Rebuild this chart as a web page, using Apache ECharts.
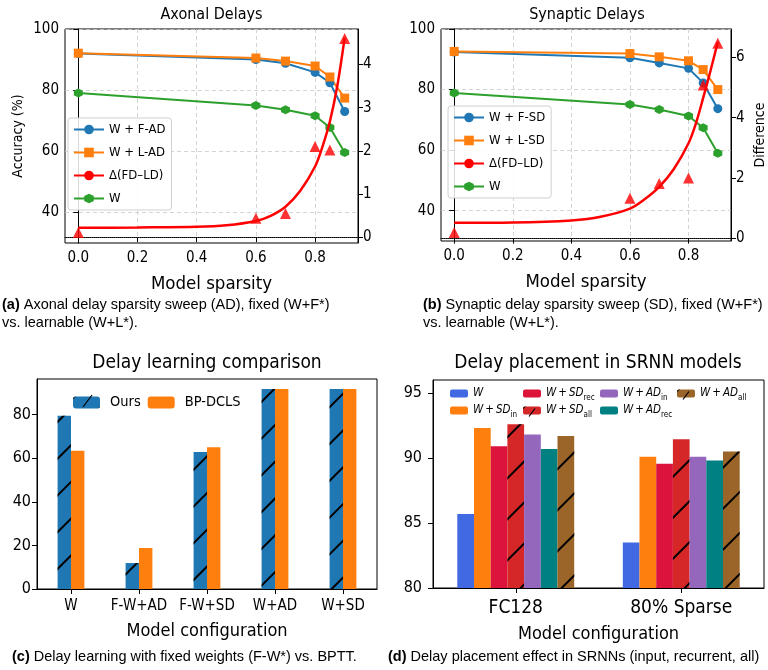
<!DOCTYPE html>
<html><head><meta charset="utf-8">
<script src="https://cdn.jsdelivr.net/npm/echarts@6/dist/echarts.min.js"></script>
<style>html,body{margin:0;padding:0;background:#fff}#c{width:768px;height:670px}</style>
</head><body><div id="c"></div>
<script>
// ---------- data ----------
const sparsity = [0, 0.6, 0.7, 0.8, 0.85, 0.9];
const sparsityTicks = [0, 0.2, 0.4, 0.6, 0.8];
// (a) axonal delays
const axF = [92.0, 90.0, 88.8, 85.8, 82.4, 73.0];
const axL = [92.1, 90.5, 89.5, 87.9, 84.3, 77.4];
const axW = [79.1, 75.0, 73.6, 71.6, 67.8, 59.6];
const axDiff = [0.11, 0.44, 0.55, 2.1, 2.02, 4.6];
// (b) synaptic delays
const sdF = [92.4, 90.5, 88.8, 87.0, 82.2, 73.7];
const sdL = [92.6, 91.9, 90.8, 89.5, 86.6, 80.0];
const sdW = [78.9, 75.1, 73.4, 71.3, 67.4, 59.0];
const sdDiff = [0.2, 1.33, 1.82, 2.0, 5.08, 6.46];
// fitted difference curves
const fitX = [0, 0.2, 0.4, 0.5, 0.6, 0.65, 0.7, 0.75, 0.8, 0.825, 0.85, 0.875, 0.9];
const axFit = [0.22, 0.23, 0.245, 0.28, 0.38, 0.5, 0.71, 1.08, 1.64, 2.1, 2.68, 3.5, 4.62];
const sdFit = [0.52, 0.53, 0.6, 0.72, 0.99, 1.3, 1.71, 2.3, 3.15, 3.8, 4.65, 5.55, 6.5];
const accTicks = [40, 60, 80, 100];
const axDiffTicks = [0, 1, 2, 3, 4];
const sdDiffTicks = [0, 2, 4, 6];
// (c) delay learning comparison
const cCats = ['W', 'F-W+AD', 'F-W+SD', 'W+AD', 'W+SD'];
const cOurs = [79.5, 11.9, 62.8, 91.7, 91.7];
const cBP = [63.4, 18.8, 65.0, 91.7, 91.7];
const cTicks = [0, 20, 40, 60, 80];
// (d) delay placement
const dCats = ['FC128', '80% Sparse'];
const dW = [85.7, 83.5];
const dSDin = [92.3, 90.1];
const dSDrec = [90.9, 89.55];
const dSDall = [92.6, 91.45];
const dADin = [91.8, 90.1];
const dADrec = [90.7, 89.8];
const dADall = [91.7, 90.5];
const dTicks = [80, 85, 90, 95];

// ---------- style ----------
const FONT = "'DejaVu Sans Condensed', 'DejaVu Sans', sans-serif";
const CAP = "'Liberation Sans', Arial, sans-serif";
const pairs = (xs, ys) => xs.map((x, i) => [x, ys[i]]);
const HEX = 'path://M0,-1 L0.866,-0.5 L0.866,0.5 L0,1 L-0.866,0.5 L-0.866,-0.5 Z';
const gridDash = {show: true, lineStyle: {color: '#c8c8c8', type: [4, 3], width: 0.8}};
const blackLine = {show: true, lineStyle: {color: '#000', width: 1}};
function hatch(gap) {
  return {symbol: 'rect', symbolSize: 1, color: '#000', dashArrayX: [10, 0], dashArrayY: [1.3, gap], rotation: -Math.PI / 4};
}

function sparsityX(gi) {
  return {type: 'value', gridIndex: gi, min: -0.045, max: 0.945,
    axisLine: blackLine, axisTick: {show: true, length: 5, customValues: sparsityTicks, lineStyle: {color: '#000'}},
    axisLabel: {customValues: sparsityTicks, formatter: v => v.toFixed(1), fontFamily: FONT, fontSize: 15, color: '#000', margin: 8},
    splitLine: gridDash,
    name: 'Model sparsity', nameLocation: 'middle', nameGap: 32,
    nameTextStyle: {fontFamily: FONT, fontSize: 18.5, color: '#000'}};
}
function accY(gi, name) {
  return {type: 'value', gridIndex: gi, min: 30, max: 100, position: 'left',
    axisLine: blackLine, axisTick: {show: true, length: 5, customValues: accTicks, lineStyle: {color: '#000'}},
    axisLabel: {customValues: accTicks, fontFamily: FONT, fontSize: 15, color: '#000', margin: 6},
    splitLine: gridDash,
    name: name, nameLocation: 'middle', nameGap: 40,
    nameTextStyle: {fontFamily: FONT, fontSize: 14, color: '#000'}};
}
function diffY(gi, min, max, ticks, name) {
  return {type: 'value', gridIndex: gi, min: min, max: max, position: 'right',
    axisLine: blackLine, axisTick: {show: true, length: 5, customValues: ticks, lineStyle: {color: '#000'}},
    axisLabel: {customValues: ticks, fontFamily: FONT, fontSize: 15, color: '#000', margin: 5},
    splitLine: {show: false},
    name: name, nameLocation: 'middle', nameGap: 22,
    nameTextStyle: {fontFamily: FONT, fontSize: 14, color: '#000'}};
}
function lineSeries(name, xi, yi, ys, color, symbol) {
  return {name: name, type: 'line', xAxisIndex: xi, yAxisIndex: yi, data: pairs(sparsity, ys),
    symbol: symbol, symbolSize: 9, color: color, lineStyle: {width: 2, color: color},
    itemStyle: {color: color}, z: 3};
}
function fitSeries(name, xi, yi, ys) {
  return {name: name, type: 'line', xAxisIndex: xi, yAxisIndex: yi, data: pairs(fitX, ys),
    symbol: 'none', smooth: 0.3, color: '#ff0000', lineStyle: {width: 2.5, color: '#ff0000'}, z: 4,
    markLine: {silent: true, symbol: 'none', label: {show: false},
      lineStyle: {color: '#333', type: 'dotted', width: 1}, data: [{yAxis: 0}]}};
}
function triSeries(name, xi, yi, ys) {
  return {name: name, type: 'scatter', xAxisIndex: xi, yAxisIndex: yi, data: pairs(sparsity, ys),
    symbol: 'triangle', symbolSize: 11, itemStyle: {color: '#ff0000'}, z: 5};
}
function lineLegend(left, top, names) {
  return {left: left, top: top, orient: 'vertical', data: names,
    formatter: n => n.slice(2), itemWidth: 30, itemHeight: 12, itemGap: 10,
    padding: [5, 6, 5, 5], borderColor: '#d0d0d0', borderWidth: 1, borderRadius: 3,
    backgroundColor: 'rgba(255,255,255,0.85)', selectedMode: false,
    textStyle: {fontFamily: FONT, fontSize: 13, color: '#000'}};
}
function barSeries(name, yi, xi, data, color, decal, width) {
  const s = {name: name, type: 'bar', xAxisIndex: xi, yAxisIndex: yi, data: data, barWidth: width, barGap: 0,
    itemStyle: {color: color}};
  if (decal) s.itemStyle.decal = decal;
  return s;
}
const TS = '\u2009';
const dNames = {
  'd:W': '{m|W}',
  'd:SDin': '{m|W' + TS + '+' + TS + 'SD}{s|in}',
  'd:SDrec': '{m|W' + TS + '+' + TS + 'SD}{s|rec}',
  'd:SDall': '{m|W' + TS + '+' + TS + 'SD}{s|all}',
  'd:ADin': '{m|W' + TS + '+' + TS + 'AD}{s|in}',
  'd:ADrec': '{m|W' + TS + '+' + TS + 'AD}{s|rec}',
  'd:ADall': '{m|W' + TS + '+' + TS + 'AD}{s|all}'
};
function dLegend(name, left, top) {
  return {left: left, top: top, data: [name], formatter: n => dNames[n], itemWidth: 18, itemHeight: 8,
    itemGap: 0, padding: 0, selectedMode: false,
    textStyle: {fontFamily: FONT, fontSize: 11.5, color: '#000',
      rich: {m: {fontStyle: 'italic', fontSize: 11.5, fontFamily: FONT, lineHeight: 16},
             s: {fontSize: 8, fontFamily: FONT, lineHeight: 9, verticalAlign: 'bottom'}}}};
}
function title(text, x, y, size) {
  return {type: 'text', x: x, y: y, silent: true,
    style: {text: text, textAlign: 'center', textVerticalAlign: 'middle', fontFamily: FONT, fontSize: size, fill: '#000'}};
}
function caption(text, x, y) {
  return {type: 'text', x: x, y: y, silent: true,
    style: {text: text, fontFamily: CAP, fontSize: 14.5, lineHeight: 18.3, fill: '#000',
      rich: {b: {fontWeight: 'bold', fontFamily: CAP, fontSize: 14.5, lineHeight: 18.3}}}};
}
// hatch stroke drawn over a legend swatch (legend decoration only)
function swatchSlash(x1, y1, x2, y2) {
  return {type: 'line', silent: true, z: 100, shape: {x1: x1, y1: y1, x2: x2, y2: y2},
    style: {stroke: '#000', lineWidth: 1.2}};
}

const option = {
  animation: false,
  backgroundColor: '#fff',
  grid: [
    {left: 65, top: 29, width: 293, height: 214, show: true, borderColor: '#000', borderWidth: 1},
    {left: 441, top: 29, width: 291, height: 212, show: true, borderColor: '#000', borderWidth: 1},
    {left: 37, top: 379, width: 340, height: 210, show: true, borderColor: '#000', borderWidth: 1},
    {left: 433, top: 380, width: 331, height: 208, show: true, borderColor: '#000', borderWidth: 1}
  ],
  xAxis: [
    sparsityX(0),
    sparsityX(1),
    {type: 'category', gridIndex: 2, data: cCats, axisLine: blackLine,
      axisTick: {show: true, length: 5, alignWithLabel: true, lineStyle: {color: '#000'}},
      axisLabel: {interval: 0, fontFamily: FONT, fontSize: 15, color: '#000', margin: 10},
      name: 'Model configuration', nameLocation: 'middle', nameGap: 33,
      nameTextStyle: {fontFamily: FONT, fontSize: 18, color: '#000'}},
    {type: 'category', gridIndex: 3, data: dCats, axisLine: blackLine,
      axisTick: {show: true, length: 5, alignWithLabel: true, lineStyle: {color: '#000'}},
      axisLabel: {interval: 0, fontFamily: FONT, fontSize: 19, color: '#000', margin: 11},
      name: 'Model configuration', nameLocation: 'middle', nameGap: 37,
      nameTextStyle: {fontFamily: FONT, fontSize: 18, color: '#000'}}
  ],
  yAxis: [
    accY(0, 'Accuracy (%)'),
    diffY(0, -0.13, 4.82, axDiffTicks, ''),
    accY(1, ''),
    diffY(1, -0.08, 6.93, sdDiffTicks, 'Difference'),
    {type: 'value', gridIndex: 2, min: 0, max: 96.3, axisLine: blackLine,
      axisTick: {show: true, length: 5, customValues: cTicks, lineStyle: {color: '#000'}},
      axisLabel: {customValues: cTicks, fontFamily: FONT, fontSize: 16, color: '#000', margin: 6},
      splitLine: {show: false}},
    {type: 'value', gridIndex: 3, min: 80, max: 96, axisLine: blackLine,
      axisTick: {show: true, length: 5, customValues: dTicks, lineStyle: {color: '#000'}},
      axisLabel: {customValues: dTicks, fontFamily: FONT, fontSize: 16, color: '#000', margin: 11},
      splitLine: {show: false}}
  ],
  legend: [
    lineLegend(68, 118, ['a:W + F-AD', 'a:W + L-AD', 'a:Δ(FD–LD)', 'a:W']),
    lineLegend(448, 106, ['b:W + F-SD', 'b:W + L-SD', 'b:Δ(FD–LD)', 'b:W']),
    {left: 73, top: 395, data: ['c:Ours', 'c:BP-DCLS'],
      formatter: n => n.slice(2), itemWidth: 27, itemHeight: 12,
      itemGap: 7, padding: 0, selectedMode: false,
      textStyle: {fontFamily: FONT, fontSize: 14.5, color: '#000', padding: [0, 0, 0, 5]}},
    dLegend('d:W', 450, 387.5),
    dLegend('d:SDin', 450, 404.5),
    dLegend('d:SDrec', 523, 387.5),
    dLegend('d:SDall', 523, 404.5),
    dLegend('d:ADin', 600, 387.5),
    dLegend('d:ADrec', 600, 404.5),
    dLegend('d:ADall', 677, 387.5)
  ],
  series: [
    lineSeries('a:W + F-AD', 0, 0, axF, '#1f77b4', 'circle'),
    lineSeries('a:W + L-AD', 0, 0, axL, '#ff7f0e', 'rect'),
    lineSeries('a:W', 0, 0, axW, '#2ca02c', HEX),
    fitSeries('a:Δ(FD–LD)', 0, 1, axFit),
    triSeries('a:pts', 0, 1, axDiff),
    lineSeries('b:W + F-SD', 1, 2, sdF, '#1f77b4', 'circle'),
    lineSeries('b:W + L-SD', 1, 2, sdL, '#ff7f0e', 'rect'),
    lineSeries('b:W', 1, 2, sdW, '#2ca02c', HEX),
    fitSeries('b:Δ(FD–LD)', 1, 3, sdFit),
    triSeries('b:pts', 1, 3, sdDiff),
    barSeries('c:Ours', 4, 2, cOurs, '#1f77b4', hatch(24), 13.4),
    barSeries('c:BP-DCLS', 4, 2, cBP, '#ff7f0e', null, 13.4),
    barSeries('d:W', 5, 3, dW, '#4169e1', null, 16.7),
    barSeries('d:SDin', 5, 3, dSDin, '#ff7f0e', null, 16.7),
    barSeries('d:SDrec', 5, 3, dSDrec, '#dc143c', null, 16.7),
    barSeries('d:SDall', 5, 3, dSDall, '#d62728', hatch(27), 16.7),
    barSeries('d:ADin', 5, 3, dADin, '#9467bd', null, 16.7),
    barSeries('d:ADrec', 5, 3, dADrec, '#008080', null, 16.7),
    barSeries('d:ADall', 5, 3, dADall, '#9b6428', hatch(27), 16.7)
  ],
  graphic: [
    title('Axonal Delays', 211.5, 15, 16),
    title('Synaptic Delays', 587, 15, 16),
    title('Delay learning comparison', 207, 363, 19),
    title('Delay placement in SRNN models', 598, 363, 19),
    caption('{b|(a)} Axonal delay sparsity sweep (AD), fixed (W+F*)\nvs. learnable (W+L*).', 2, 296),
    caption('{b|(b)} Synaptic delay sparsity sweep (SD), fixed (W+F*)\nvs. learnable (W+L*).', 423, 296),
    caption('{b|(c)} Delay learning with fixed weights (F-W*) vs. BPTT.', 12, 648),
    caption('{b|(d)} Delay placement effect in SRNNs (input, recurrent, all)', 388, 648),
    swatchSlash(83, 407, 92, 395),
    swatchSlash(529, 416.5, 535, 408.5),
    swatchSlash(683, 399.5, 689, 391.5)
  ]
};
const chart = echarts.init(document.getElementById('c'), null, {renderer: 'canvas'});
chart.setOption(option);
</script></body></html>
